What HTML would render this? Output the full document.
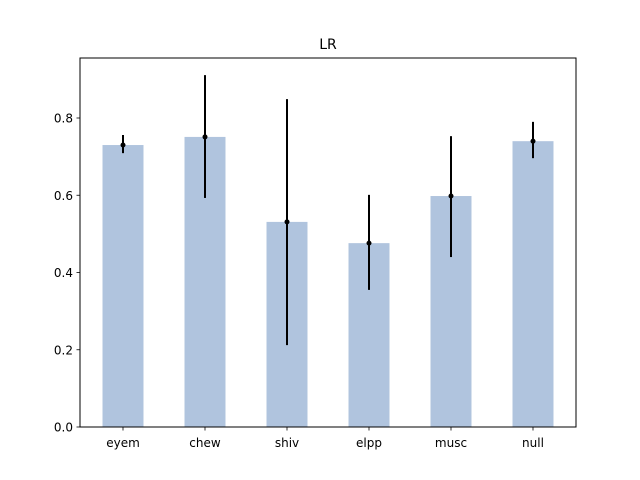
<!DOCTYPE html>
<html><head><meta charset="utf-8"><style>body{margin:0;background:#fff}svg{display:block;font-family:"DejaVu Sans","Liberation Sans",sans-serif}</style></head>
<body>
<svg id="chart" width="640" height="480">
<rect width="640" height="480" fill="#fff"/>
<g id="plot"></g>
<rect x="80" y="58" width="496" height="369" fill="none" stroke="#000" stroke-width="1"/>
<text x="328" y="49" text-anchor="middle" font-size="14">LR</text>
</svg>
<script>
const categories = ["eyem","chew","shiv","elpp","musc","null"];
const values = [0.730, 0.751, 0.531, 0.476, 0.598, 0.740];
const errLow = [0.709, 0.593, 0.212, 0.355, 0.440, 0.696];
const errHigh = [0.756, 0.911, 0.849, 0.601, 0.753, 0.790];
const yTicks = [0, 0.2, 0.4, 0.6, 0.8];
const yTickLabels = ["0.0","0.2","0.4","0.6","0.8"];

const NS = "http://www.w3.org/2000/svg";
const g = document.getElementById("plot");
const y = v => 427 - v * 386.25;
const x = i => 123 + 82 * i;
function mk(tag, attrs, parent) {
  const e = document.createElementNS(NS, tag);
  for (const k in attrs) e.setAttribute(k, attrs[k]);
  (parent || g).appendChild(e);
  return e;
}
categories.forEach((c, i) => {
  const b = mk("rect", {x: x(i) - 20.5, y: y(values[i]), width: 41, height: 427 - y(values[i]), fill: "#b0c4de"});
  
  
  const l = mk("line", {x1: x(i), x2: x(i), y1: y(errLow[i]), y2: y(errHigh[i]), stroke: "#000", "stroke-width": 2});
  
  
  const p = mk("circle", {cx: x(i), cy: y(values[i]), r: 2.5, fill: "#000"});
  
  
  mk("line", {x1: x(i), x2: x(i), y1: 427, y2: 430.5, stroke: "#000", "stroke-width": 0.8});
  const t = mk("text", {x: x(i), y: 447, "text-anchor": "middle", "font-size": 12});
  t.textContent = c;
  
  
});
yTicks.forEach((v, i) => {
  mk("line", {x1: 76.5, x2: 80, y1: y(v), y2: y(v), stroke: "#000", "stroke-width": 0.8});
  const t = mk("text", {x: 73, y: y(v) + 4.5, "text-anchor": "end", "font-size": 12});
  t.textContent = yTickLabels[i];
  
  
});
</script>
</body></html>
